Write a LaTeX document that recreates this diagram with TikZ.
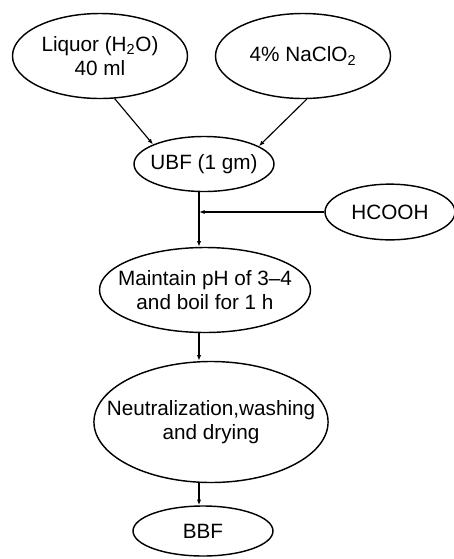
\documentclass[tikz,border=0pt]{standalone}
\usepackage{fontspec}
\setmainfont{Liberation Sans}
\usetikzlibrary{arrows.meta,shapes.geometric,positioning}
\tikzset{
  ellip/.style = {ellipse, draw, line width=1pt, inner sep=-15pt, align=center,
                  font=\fontsize{14.5}{16.5}\selectfont},
  arr/.style   = {-{Latex[length=4pt,width=3pt]}, line width=0.8pt},
}

\begin{document}
\begin{tikzpicture}[x=0.7pt,y=-0.7pt]
  \useasboundingbox (0,0) rectangle (454,559);
  % inputs
  \node[ellip, minimum width=122.5pt, minimum height=59.5pt] (liquor) at (100,56)
      {Liquor (H\textsubscript{2}O)\\40 ml};
  \node[ellip, minimum width=122.5pt, minimum height=59.5pt] (naclo) at (303,56)
      {4\% NaClO\textsubscript{2}};
  \node[ellip, minimum width=98pt, minimum height=38.5pt] (ubf) at (204,164) {UBF (1 gm)};
  \node[ellip, minimum width=91pt, minimum height=39pt] (hcooh) at (390,212) {HCOOH};
  % process steps
  \node[ellip, minimum width=147.7pt, minimum height=59.5pt] (boil) at (205,290)
      {Maintain pH of 3--4\\and boil for 1 h};
  \node[ellip, minimum width=162.4pt, minimum height=84.7pt] (neutral) at (211,422)
      {Neutralization,washing\\and drying};
  \node[ellip, minimum width=98pt, minimum height=35pt] (bbf) at (203,531) {BBF};
  \coordinate (trunk) at (199,0);

  \draw[arr] (liquor.-71) -- (ubf.159);
  \draw[arr] (naclo.-85) -- (ubf.18);
  \draw[arr] (ubf.south -| trunk) -- (boil.north -| trunk);
  \draw[arr] (hcooh.west) -- (trunk |- hcooh.west);
  \draw[arr] (boil.south -| trunk) -- (neutral.north -| trunk);
  \draw[arr] (neutral.south -| trunk) -- (bbf.north -| trunk);
\end{tikzpicture}
\end{document}
